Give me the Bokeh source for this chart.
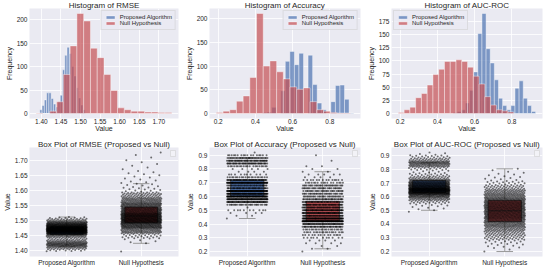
import numpy as np
from bokeh.plotting import figure
from bokeh.layouts import gridplot
from bokeh.models import (Range1d, FixedTicker, PrintfTickFormatter, Legend,
                          LegendItem, Label, ColumnDataSource)
from bokeh.embed import file_html
from bokeh.resources import INLINE

# ---------------- data ----------------
GROUPS = ["Proposed Algorithm", "Null Hypothesis"]

# RMSE histograms (20 bins each: first bin left edge, bin width, counts)
RMSE_PROP_START = 1.396
RMSE_PROP_WIDTH = 0.0058
RMSE_PROP_COUNTS = [8, 17, 29, 44, 44, 32, 20, 14, 25, 39, 93, 124, 141, 128, 100, 80, 55, 33, 18, 8]
RMSE_NULL_START = 1.387
RMSE_NULL_WIDTH = 0.0173
RMSE_NULL_COUNTS = [1, 0, 5, 25, 83, 144, 213, 197, 139, 119, 83, 49, 12, 8, 5, 5, 3, 3, 2, 2]

# Accuracy histograms
ACC_PROP_START = 0.438
ACC_PROP_WIDTH = 0.0245
ACC_PROP_COUNTS = [2, 3, 13, 0, 48, 110, 131, 103, 127, 0, 123, 61, 22, 8, 0, 25, 59, 60, 30, 1]
ACC_NULL_START = 0.19
ACC_NULL_WIDTH = 0.036
ACC_NULL_COUNTS = [2, 5, 8, 26, 37, 76, 211, 100, 111, 88, 73, 56, 51, 54, 25, 8, 5, 2, 1, 1]
ACC_STEP = 0.02  # accuracy values lie on a discrete grid

# AUC-ROC histograms
AUC_PROP_START = 0.484
AUC_PROP_WIDTH = 0.0222
AUC_PROP_COUNTS = [2, 4, 7, 20, 44, 79, 152, 190, 123, 96, 64, 29, 15, 7, 15, 48, 62, 29, 15, 4]
AUC_NULL_START = 0.19
AUC_NULL_WIDTH = 0.031
AUC_NULL_COUNTS = [2, 7, 12, 30, 38, 54, 74, 84, 99, 99, 102, 99, 88, 71, 56, 32, 16, 7, 5, 3]

# tick labels
RMSE_TICKS = [1.40, 1.45, 1.50, 1.55, 1.60, 1.65, 1.70]
PROB_HIST_TICKS = [0.2, 0.4, 0.6, 0.8]
PROB_BOX_TICKS = [0.2, 0.3, 0.4, 0.5, 0.6, 0.7, 0.8, 0.9]
FREQ_TICKS_50 = [0, 50, 100, 150, 200]
FREQ_TICKS_25 = [0, 25, 50, 75, 100, 125, 150, 175]

# ---------------- style ----------------
BLUE = "#4C72B0"
RED = "#C44E52"
BLUE_BOX = "#4F71AA"
RED_BOX = "#BF5357"
BG = "#EAEAF2"
TXT = "#262626"
FONT = "Liberation Sans"
W, H = 182, 134


def style(p, xlabel=None, ylabel=None):
    p.background_fill_color = BG
    p.border_fill_color = "white"
    p.outline_line_color = None
    p.xgrid.grid_line_color = "white"
    p.ygrid.grid_line_color = "white"
    p.xgrid.grid_line_width = 0.8
    p.ygrid.grid_line_width = 0.8
    for ax in p.axis:
        ax.axis_line_color = None
        ax.major_tick_line_color = None
        ax.minor_tick_line_color = None
        ax.major_tick_out = 0
        ax.major_tick_in = 0
        ax.major_label_text_font = FONT
        ax.major_label_text_font_size = "6.5px"
        ax.major_label_text_color = TXT
        ax.axis_label_text_font = FONT
        ax.axis_label_text_font_size = "7px"
        ax.axis_label_text_font_style = "normal"
        ax.axis_label_text_color = TXT
    p.xaxis.axis_label = xlabel
    p.yaxis.axis_label = ylabel
    p.yaxis.major_label_standoff = 2
    p.yaxis.axis_label_standoff = 1
    p.title.text_font = FONT
    p.title.text_font_size = "8px"
    p.title.text_font_style = "normal"
    p.title.text_color = TXT
    p.title.align = "center"
    p.title.standoff = -3


def margin_range(lo, hi, frac=0.05):
    d = (hi - lo) * frac
    return Range1d(lo - d, hi + d)


def hist_fig(title, series, xticks, xfmt, yticks, legend_loc):
    lo = min(s[0] for s in series)
    hi = max(s[0] + s[1] * len(s[2]) for s in series)
    ymax = max(max(s[2]) for s in series)
    p = figure(width=W, height=H, output_backend="svg", toolbar_location=None,
               title=title, x_range=margin_range(lo, hi), y_range=margin_range(0, ymax),
               min_border_left=22, min_border_right=4, min_border_top=0, min_border_bottom=0)
    items = []
    for start, width, counts, color, label in series:
        n = len(counts)
        left = start + width * np.arange(n)
        src = ColumnDataSource(dict(left=left, right=left + width, top=counts))
        r = p.quad(left="left", right="right", bottom=0, top="top", source=src,
                   fill_color=color, fill_alpha=0.7, line_color="white",
                   line_width=0.5, line_alpha=0.8)
        items.append(LegendItem(label=label, renderers=[r]))
    style(p, "Value", "Frequency")
    p.xaxis.ticker = FixedTicker(ticks=xticks)
    p.xaxis.formatter = PrintfTickFormatter(format=xfmt)
    p.yaxis.ticker = FixedTicker(ticks=yticks)
    p.xaxis.major_label_standoff = 0
    p.xaxis.axis_label_standoff = -2
    leg = Legend(items=items, location=legend_loc, margin=2, padding=3, spacing=0,
                 label_text_font=FONT, label_text_font_size="6px",
                 label_text_color=TXT, glyph_width=11, glyph_height=4,
                 label_height=6, label_standoff=4,
                 background_fill_color=BG, background_fill_alpha=0.8,
                 border_line_color="#CCCCCC", border_line_width=0.8)
    p.add_layout(leg)
    return p


def values_from_hist(start, width, counts, step=None):
    vals = []
    for i, c in enumerate(counts):
        left = start + i * width
        for k in range(c):
            vals.append(left + (k + 0.5) / c * width)
    v = np.array(vals)
    if step:
        v = np.round(v / step) * step
    return v


PHI = 0.6180339887498949
JITTER = 0.27
BOX_W = 0.44


def box_fig(title, groups, yticks, yfmt):
    allv = np.concatenate([g[0] for g in groups])
    p = figure(width=W, height=H, output_backend="svg", toolbar_location=None,
               title=title, x_range=Range1d(-0.5, 1.5),
               y_range=margin_range(allv.min(), allv.max()),
               min_border_left=22, min_border_right=4, min_border_top=13, min_border_bottom=11)
    for i, (vals, color) in enumerate(groups):
        q1, med, q3 = np.percentile(vals, [25, 50, 75])
        iqr = q3 - q1
        lo = vals[vals >= q1 - 1.5 * iqr].min()
        hi = vals[vals <= q3 + 1.5 * iqr].max()
        p.quad(left=[i - BOX_W / 2], right=[i + BOX_W / 2], bottom=[q1], top=[q3],
               fill_color=color, line_color="#3F3F3F", line_width=0.8)
        p.segment(x0=[i, i], y0=[q1, q3], x1=[i, i], y1=[lo, hi],
                  line_color="#999999", line_width=1)
        p.segment(x0=[i - BOX_W / 4, i - BOX_W / 4], y0=[lo, hi],
                  x1=[i + BOX_W / 4, i + BOX_W / 4], y1=[lo, hi],
                  line_color="#999999", line_width=1)
        p.segment(x0=[i - BOX_W / 2], y0=[med], x1=[i + BOX_W / 2], y1=[med],
                  line_color="#3F3F3F", line_width=0.8)
    for i, (vals, color) in enumerate(groups):
        k = np.arange(len(vals))
        xs = i + ((k * PHI) % 1.0 - 0.5) * 2 * JITTER
        p.scatter(x=xs, y=vals, size=2.0, marker="circle", fill_color="black",
                  fill_alpha=0.55, line_color=None)
    style(p, None, "Value")
    p.xaxis.ticker = FixedTicker(ticks=[0, 1])
    p.xaxis.major_label_overrides = {0: GROUPS[0], 1: GROUPS[1]}
    p.xaxis.major_label_standoff = 2
    p.yaxis.ticker = FixedTicker(ticks=yticks)
    p.yaxis.formatter = PrintfTickFormatter(format=yfmt)
    p.add_layout(Label(x=1.5, y=p.y_range.end, x_offset=-3, y_offset=-3,
                       text="\u2003", text_font_size="5px", text_align="right",
                       text_baseline="top", background_fill_color="#F2F2F7",
                       border_line_color="#D0D0D0", border_line_width=0.6))
    return p


p1 = hist_fig("Histogram of RMSE", [
    (RMSE_PROP_START, RMSE_PROP_WIDTH, RMSE_PROP_COUNTS, BLUE, GROUPS[0]),
    (RMSE_NULL_START, RMSE_NULL_WIDTH, RMSE_NULL_COUNTS, RED, GROUPS[1])],
    RMSE_TICKS, "%.2f", FREQ_TICKS_50, "top_right")
p2 = hist_fig("Histogram of Accuracy", [
    (ACC_PROP_START, ACC_PROP_WIDTH, ACC_PROP_COUNTS, BLUE, GROUPS[0]),
    (ACC_NULL_START, ACC_NULL_WIDTH, ACC_NULL_COUNTS, RED, GROUPS[1])],
    PROB_HIST_TICKS, "%.1f", FREQ_TICKS_50, "top_right")
p3 = hist_fig("Histogram of AUC-ROC", [
    (AUC_PROP_START, AUC_PROP_WIDTH, AUC_PROP_COUNTS, BLUE, GROUPS[0]),
    (AUC_NULL_START, AUC_NULL_WIDTH, AUC_NULL_COUNTS, RED, GROUPS[1])],
    PROB_HIST_TICKS, "%.1f", FREQ_TICKS_25, "top_left")

p4 = box_fig("Box Plot of RMSE (Proposed vs Null)", [
    (values_from_hist(RMSE_PROP_START, RMSE_PROP_WIDTH, RMSE_PROP_COUNTS), BLUE_BOX),
    (values_from_hist(RMSE_NULL_START, RMSE_NULL_WIDTH, RMSE_NULL_COUNTS), RED_BOX)],
    RMSE_TICKS, "%.2f")
p5 = box_fig("Box Plot of Accuracy (Proposed vs Null)", [
    (values_from_hist(ACC_PROP_START, ACC_PROP_WIDTH, ACC_PROP_COUNTS, ACC_STEP), BLUE_BOX),
    (values_from_hist(ACC_NULL_START, ACC_NULL_WIDTH, ACC_NULL_COUNTS, ACC_STEP), RED_BOX)],
    PROB_BOX_TICKS, "%.1f")
p6 = box_fig("Box Plot of AUC-ROC (Proposed vs Null)", [
    (values_from_hist(AUC_PROP_START, AUC_PROP_WIDTH, AUC_PROP_COUNTS), BLUE_BOX),
    (values_from_hist(AUC_NULL_START, AUC_NULL_WIDTH, AUC_NULL_COUNTS), RED_BOX)],
    PROB_BOX_TICKS, "%.1f")

grid = gridplot([[p1, p2, p3], [p4, p5, p6]], toolbar_location=None)

open("out.html", "w").write(file_html(grid, INLINE))
